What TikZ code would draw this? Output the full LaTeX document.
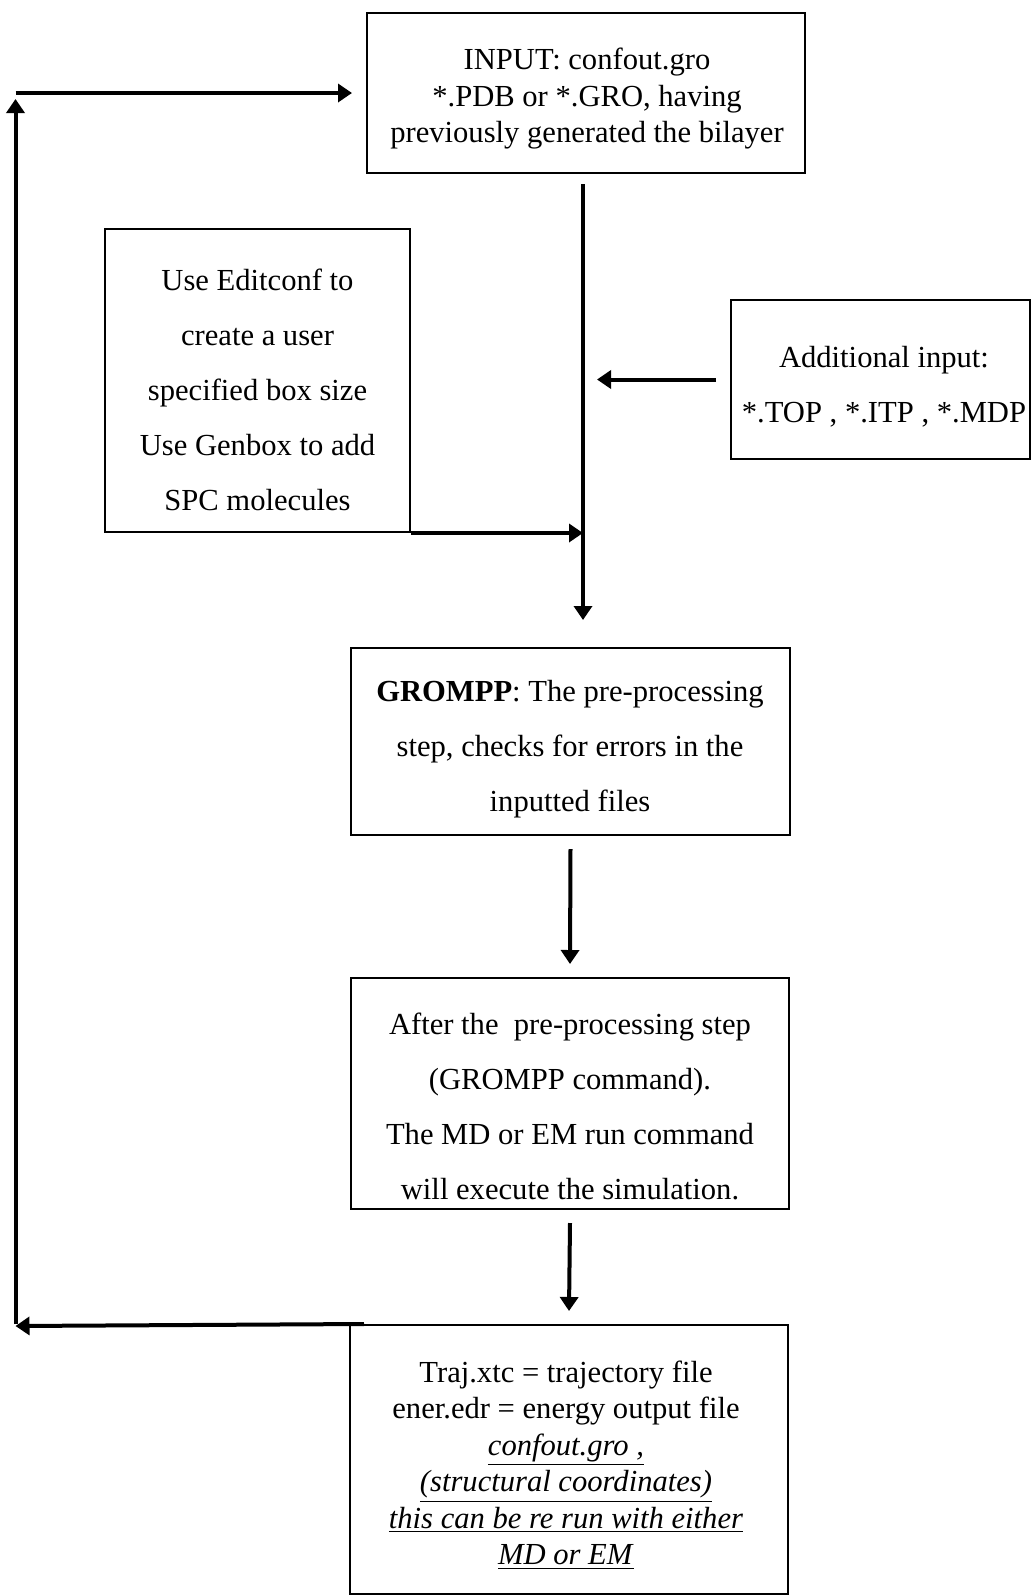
\documentclass[tikz,border=0pt]{standalone}
\usepackage{fontspec}
\setmainfont{Liberation Serif}
\usetikzlibrary{arrows.meta,calc}
\tikzset{
  box/.style={draw, line width=1pt, inner sep=0pt},
  txt/.style={align=center, inner sep=0pt},
  tight/.style={font=\fontsize{15.3pt}{18.25pt}\selectfont},
  loose/.style={font=\fontsize{15.3pt}{27.5pt}\selectfont},
  arr/.style={line width=2pt, -{Triangle[length=7pt,width=9pt]}},
}
\begin{document}
\begin{tikzpicture}[x=0.5pt,y=-0.5pt]
\fill[white] (0,0) rectangle (1031,1596);
\useasboundingbox (0,0) rectangle (1031,1596);
% boxes
\node[box, minimum width=219pt, minimum height=80pt] (inp) at (586,93) {};
\node[box, minimum width=152.5pt, minimum height=151.5pt] (edit) at (257.5,380.5) {};
\node[box, minimum width=149.5pt, minimum height=79.5pt] (add) at (880.5,379.5) {};
\node[box, minimum width=219.5pt, minimum height=93.5pt] (grom) at (570.5,741.5) {};
\node[box, minimum width=219pt, minimum height=115.5pt] (after) at (570,1093.5) {};
\node[box, minimum width=219pt, minimum height=134.5pt] (out) at (569,1459.5) {};
% texts
\node[txt, tight] (inpT) at (587,99) {INPUT: confout.gro\\*.PDB or *.GRO, having\\previously generated the bilayer};
\node[txt, loose] (editT) at (257.5,390) {Use Editconf to\\create a user\\specified box size\\Use Genbox to add\\SPC molecules};
\node[txt, loose] (addT) at (884,387) {Additional input:\\*.TOP , *.ITP , *.MDP};
\node[txt, loose] (gromT) at (570,749) {\textbf{GROMPP}: The pre-processing\\step, checks for errors in the\\inputted files};
\node[txt, loose] (afterT) at (570,1106) {After the\ \ pre-processing step\\(GROMPP command).\\The MD or EM run command\\will execute the simulation.};
\node[txt, tight] (outT) at (566,1465) {Traj.xtc = trajectory file\\ener.edr = energy output file\\\underline{\textit{confout.gro ,}}\\\underline{\textit{(structural coordinates)}}\\\underline{\textit{this can be re run with either}}\\\underline{\textit{MD or EM}}};
% coordinates for free ends
\coordinate (m1) at (583,184);
\coordinate (m2) at (583,620);
\coordinate (lb) at (15.5,1326);
\coordinate (lb2) at (15.5,1324);
\coordinate (lt) at (15.5,99);
\coordinate (lt2) at (15.5,93);
% connectors
\draw[arr] (m1) -- (m2);
\draw[arr] (edit.south east) -- (edit.south east -| m1);
\draw[arr] ([xshift=-7pt]add.west) -- ([xshift=7pt]add.west -| m1);
\draw[arr] ([yshift=-6.5pt]grom.south) -- ([yshift=6.5pt]after.north);
\draw[arr] ([yshift=-6.5pt]after.south) -- ([yshift=6.5pt]out.north);
\draw[arr] ([xshift=7.5pt]out.north west) -- (lb);
\draw[arr] (lb2) -- (lt);
\draw[arr] (lt2) -- ([xshift=-7pt]inp.west);
\end{tikzpicture}
\end{document}
